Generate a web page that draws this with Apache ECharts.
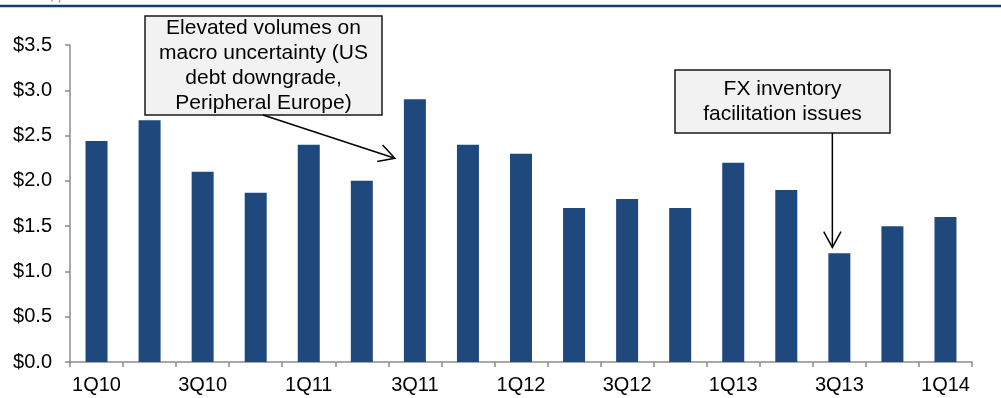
<!DOCTYPE html>
<html>
<head>
<meta charset="utf-8">
<script src="https://cdn.jsdelivr.net/npm/echarts@6/dist/echarts.min.js"></script>
<style>
html,body{margin:0;padding:0;background:#fff;}
#c{width:1001px;height:398px;}
</style>
</head>
<body>
<div id="c"></div>
<script>
var categories = ['1Q10','2Q10','3Q10','4Q10','1Q11','2Q11','3Q11','4Q11','1Q12','2Q12','3Q12','4Q12','1Q13','2Q13','3Q13','4Q13','1Q14'];
var values = [2.44, 2.67, 2.10, 1.87, 2.40, 2.00, 2.90, 2.40, 2.30, 1.70, 1.80, 1.70, 2.20, 1.90, 1.20, 1.50, 1.60];
var yTicks = [0, 0.5, 1.0, 1.5, 2.0, 2.5, 3.0, 3.5];
var note1 = ['Elevated volumes on', 'macro uncertainty (US', 'debt downgrade,', 'Peripheral Europe)'];
var note2 = ['FX inventory', 'facilitation issues'];

var FONT = '"Liberation Sans", Arial, sans-serif';
var chart = echarts.init(document.getElementById('c'), null, {renderer: 'canvas'});

var option = {
  animation: false,
  backgroundColor: '#ffffff',
  grid: {left: 70, right: 29, top: 45, bottom: 36, containLabel: false},
  xAxis: {
    type: 'category',
    data: categories,
    boundaryGap: true,
    axisLine: {lineStyle: {color: '#8c8c8c', width: 1.5}},
    axisTick: {show: true, interval: 0, length: 5, lineStyle: {color: '#8c8c8c', width: 1.5}},
    axisLabel: {interval: 1, color: '#000', fontFamily: FONT, fontSize: 20, margin: 13},
    splitLine: {show: false}
  },
  yAxis: {
    type: 'value',
    min: yTicks[0],
    max: yTicks[yTicks.length - 1],
    interval: 0.5,
    axisLine: {show: true, lineStyle: {color: '#8c8c8c', width: 1.5}},
    axisTick: {show: true, length: 5, lineStyle: {color: '#8c8c8c', width: 1.5}},
    axisLabel: {color: '#000', fontFamily: FONT, fontSize: 20, margin: 18,
      formatter: function (v) { return '$' + v.toFixed(1); }},
    splitLine: {show: false}
  },
  series: [{
    type: 'bar',
    data: values,
    barWidth: 22,
    itemStyle: {color: '#1f497d'}
  }]
};
chart.setOption(option);

function arrow(x1, y1, x2, y2, head) {
  var ang = Math.atan2(y2 - y1, x2 - x1);
  var a1 = ang + Math.PI - 0.5, a2 = ang + Math.PI + 0.5;
  var st = {stroke: '#000', lineWidth: 1.5, fill: null};
  return [
    {type: 'line', shape: {x1: x1, y1: y1, x2: x2, y2: y2}, style: st, z: 100},
    {type: 'polyline', shape: {points: [
      [x2 + head * Math.cos(a1), y2 + head * Math.sin(a1)], [x2, y2],
      [x2 + head * Math.cos(a2), y2 + head * Math.sin(a2)]]}, style: st, z: 100}
  ];
}

function box(x, y, w, h, lines, lh) {
  return {
    type: 'group', z: 100,
    children: [
      {type: 'rect', shape: {x: x, y: y, width: w, height: h},
       style: {fill: '#f2f2f2', stroke: '#1a1a1a', lineWidth: 1.5}},
      {type: 'text', x: x + w / 2, y: y + h / 2,
       style: {text: lines.join('\n'), fill: '#000', font: '21px ' + FONT,
               textAlign: 'center', textVerticalAlign: 'middle', lineHeight: lh}}
    ]
  };
}

var p1 = chart.convertToPixel({xAxisIndex: 0, yAxisIndex: 0}, [categories[6], 2.25]);
var p2 = chart.convertToPixel({xAxisIndex: 0, yAxisIndex: 0}, [categories[14], values[14]]);

var els = [
  {type: 'line', shape: {x1: 0, y1: 6, x2: 1001, y2: 6}, style: {stroke: '#0b3f6e', lineWidth: 2.5}, z: 100},
  {type: 'text', x: 22, y: -14, style: {text: 'US$, bn', fill: '#7f7f7f', font: '18px ' + FONT}, z: 99},
  box(145, 16, 237, 99, note1, 25),
  box(675, 70, 215, 63, note2, 25)
];
els = els.concat(arrow(263, 115, p1[0] - 20, p1[1], 18));
els = els.concat(arrow(p2[0] - 7, 133, p2[0] - 7, p2[1] - 6, 18));
chart.setOption({graphic: {elements: els}});
</script>
</body>
</html>
